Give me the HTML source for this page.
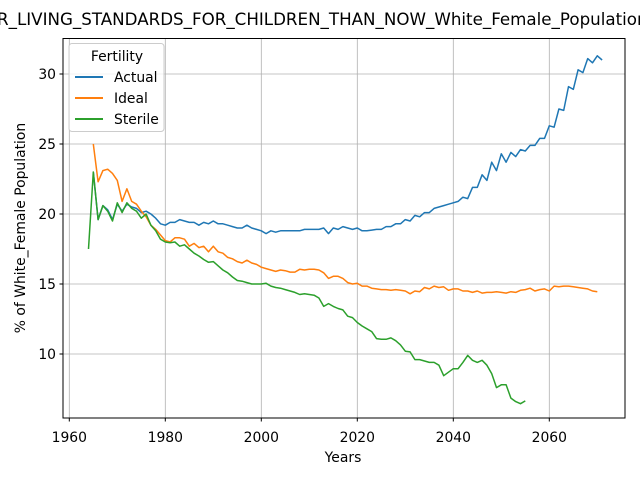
<!DOCTYPE html>
<html><head><meta charset="utf-8"><style>body{margin:0;background:#fff}svg{display:block;font-family:"DejaVu Sans","Liberation Sans",sans-serif}</style></head>
<body>
<svg id="chart" width="640" height="480">
<text x="-3" y="25" font-size="16.7">R_LIVING_STANDARDS_FOR_CHILDREN_THAN_NOW_White_Female_Population</text>
<g id="grid"></g>
<g id="series"></g>
<rect x="63" y="38.5" width="562" height="379.5" fill="none" stroke="#000" stroke-width="1"/>
<g id="ticks"></g>
<text x="343" y="462" font-size="13.9" text-anchor="middle">Years</text>
<text transform="translate(25,228) rotate(-90)" font-size="13.9" text-anchor="middle">% of White_Female Population</text>
<g>
<rect x="69" y="43.5" width="95" height="88" rx="3" fill="#fff" fill-opacity="0.8" stroke="#ccc"/>
<text x="117" y="61" font-size="13.9" text-anchor="middle">Fertility</text>
<line x1="75" y1="77" x2="103" y2="77" stroke="#1f77b4" stroke-width="2"/>
<text x="114" y="82" font-size="13.9">Actual</text>
<line x1="75" y1="98" x2="103" y2="98" stroke="#ff7f0e" stroke-width="2"/>
<text x="114" y="103" font-size="13.9">Ideal</text>
<line x1="75" y1="119" x2="103" y2="119" stroke="#2ca02c" stroke-width="2"/>
<text x="114" y="124" font-size="13.9">Sterile</text>
</g>
</svg>
<script>
const xTicks=[1960,1980,2000,2020,2040,2060];
const yTicks=[10,15,20,25,30];
const actualStart=1965;
const actual=[23.0,19.6,20.6,20.3,19.6,20.7,20.2,20.7,20.5,20.4,20.1,20.2,20.0,19.7,19.3,19.2,19.4,19.4,19.6,19.5,19.4,19.4,19.2,19.4,19.3,19.5,19.3,19.3,19.2,19.1,19.0,19.0,19.2,19.0,18.9,18.8,18.6,18.8,18.7,18.8,18.8,18.8,18.8,18.8,18.9,18.9,18.9,18.9,19.0,18.6,19.0,18.9,19.1,19.0,18.9,19.0,18.8,18.8,18.85,18.9,18.9,19.1,19.1,19.3,19.3,19.6,19.5,19.9,19.8,20.1,20.1,20.4,20.5,20.6,20.7,20.8,20.9,21.2,21.1,21.9,21.9,22.8,22.4,23.7,23.1,24.3,23.7,24.4,24.1,24.6,24.5,24.9,24.9,25.4,25.4,26.3,26.2,27.5,27.4,29.1,28.9,30.3,30.1,31.1,30.8,31.3,31.0];
const idealStart=1965;
const ideal=[25.0,22.3,23.1,23.2,22.9,22.4,20.9,21.8,20.9,20.7,20.2,19.8,19.2,18.9,18.5,18.1,18.0,18.3,18.3,18.2,17.7,17.9,17.6,17.7,17.3,17.7,17.3,17.2,16.9,16.8,16.6,16.5,16.7,16.5,16.4,16.2,16.1,16.0,15.9,16.0,15.95,15.85,15.85,16.05,16.0,16.05,16.05,16.0,15.8,15.4,15.55,15.55,15.4,15.1,15.0,15.05,14.85,14.85,14.7,14.65,14.6,14.6,14.55,14.6,14.55,14.5,14.3,14.5,14.45,14.75,14.65,14.85,14.75,14.8,14.55,14.65,14.65,14.5,14.5,14.4,14.5,14.35,14.4,14.4,14.45,14.4,14.35,14.45,14.4,14.55,14.6,14.7,14.5,14.6,14.65,14.5,14.85,14.8,14.85,14.85,14.8,14.75,14.7,14.65,14.5,14.45];
const sterileStart=1964;
const sterile=[17.5,23.0,19.6,20.6,20.2,19.5,20.8,20.1,20.8,20.4,20.2,19.7,20.0,19.2,18.8,18.2,18.0,17.95,18.0,17.7,17.8,17.5,17.2,17.0,16.75,16.55,16.6,16.3,16.0,15.8,15.5,15.25,15.2,15.1,15.0,15.0,15.0,15.05,14.85,14.75,14.7,14.6,14.5,14.4,14.25,14.3,14.25,14.2,14.0,13.4,13.6,13.4,13.25,13.15,12.7,12.6,12.25,12.0,11.8,11.6,11.1,11.05,11.05,11.15,10.95,10.65,10.2,10.15,9.6,9.6,9.5,9.4,9.4,9.2,8.45,8.7,8.95,8.95,9.4,9.9,9.55,9.4,9.55,9.2,8.6,7.6,7.8,7.8,6.85,6.6,6.45,6.65];
const X=yr=>69.3+(yr-1960)*4.8;
const Y=v=>214-(v-20)*14;
const NS='http://www.w3.org/2000/svg';
const grid=document.getElementById('grid'),ticks=document.getElementById('ticks'),ser=document.getElementById('series');
function mk(tag,attrs,parent){const e=document.createElementNS(NS,tag);for(const k in attrs)e.setAttribute(k,attrs[k]);parent.appendChild(e);return e;}
xTicks.forEach(t=>{const x=X(t);
const g=mk('line',{x1:x,x2:x,y1:38.5,y2:418,stroke:'#b0b0b0','stroke-width':0.8},grid);


const tk=mk('line',{x1:x,x2:x,y1:418,y2:421.5,stroke:'#000'},ticks);


const l=mk('text',{x:x,y:442,'font-size':13.9,'text-anchor':'middle'},ticks);l.textContent=t;

});
yTicks.forEach(t=>{const y=Y(t);
const g=mk('line',{x1:63,x2:625,y1:y,y2:y,stroke:'#b0b0b0','stroke-width':0.8},grid);


const tk=mk('line',{x1:59.5,x2:63,y1:y,y2:y,stroke:'#000'},ticks);


const l=mk('text',{x:56,y:y+5,'font-size':13.9,'text-anchor':'end'},ticks);l.textContent=t;

});
function line(vals,start,color,name){const pts=vals.map((v,i)=>X(start+i).toFixed(1)+','+Y(v).toFixed(1)).join(' ');
const p=mk('polyline',{points:pts,fill:'none',stroke:color,'stroke-width':1.5,'stroke-linejoin':'round'},ser);

}
line(actual,actualStart,'#1f77b4','actual-line');
line(ideal,idealStart,'#ff7f0e','ideal-line');
line(sterile,sterileStart,'#2ca02c','sterile-line');
</script>
</body></html>
